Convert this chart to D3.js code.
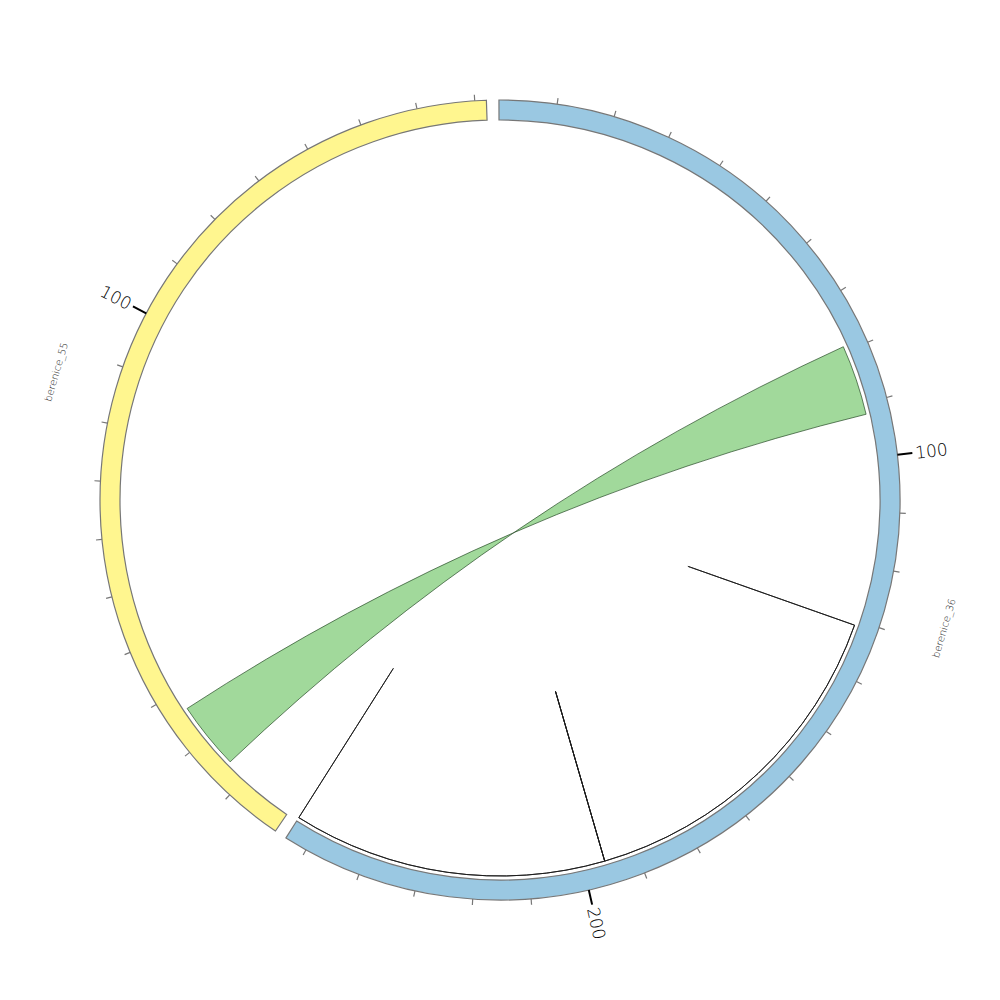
<!DOCTYPE html>
<html>
<head>
<meta charset="utf-8">
<script src="https://cdn.jsdelivr.net/npm/d3@7/dist/d3.min.js"></script>
<style>
  html, body { margin: 0; padding: 0; background: #ffffff; }
  svg { display: block; }
</style>
</head>
<body>
<svg id="chart" width="1000" height="1000"></svg>
<script>
// ---- data ----
const sectorNames = ["berenice_36", "berenice_55"];
const sectorSizes = [254, 172];
const sectorColors = ["#9ac8e2", "#fff68f"];
const tickStep = 10;
const majorTicks = [100, 200];
// links: [sector1, start1, end1] -> [sector2, start2, end2]
const linkSource = [["berenice_36", 79, 92], ["berenice_36", 131, 196], ["berenice_36", 196, 254]];
const linkTarget = [["berenice_55", 14, 26.5], ["berenice_36", 131, 196], ["berenice_36", 196, 254]];
const linkColors = ["#a1d99b", "none", "none"];

// ---- layout ----
const cx = 500, cy = 500;
const rOuter = 400, rInner = 380, rLink = 376;
const gapDeg = 1.8;
const startDeg = -0.15;
const total = d3.sum(sectorSizes);
const degPerUnit = (360 - gapDeg * sectorSizes.length) / total;
const rad = d => d * Math.PI / 180;

const svg = d3.select("#chart");
const g = svg.append("g").attr("transform", `translate(${cx},${cy})`);

// angle scales per sector
const scales = {};
let cur = startDeg;
sectorNames.forEach((n, i) => {
  const a0 = cur, a1 = cur + sectorSizes[i] * degPerUnit;
  scales[n] = d3.scaleLinear().domain([0, sectorSizes[i]]).range([rad(a0), rad(a1)]);
  cur = a1 + gapDeg;
});

// ---- links ----
const P = a => [rLink * Math.sin(a), -rLink * Math.cos(a)];
const ctl = (a, b) => {
  const p = P(a), q = P(b);
  return [0.06 * (p[0] + q[0]) / 2, 0.06 * (p[1] + q[1]) / 2];
};
function linkPath(src, tgt) {
  const a0 = scales[src[0]](src[1]), a1 = scales[src[0]](src[2]);
  const b0 = scales[tgt[0]](tgt[1]), b1 = scales[tgt[0]](tgt[2]);
  const p = d3.path();
  p.moveTo(...P(a0));
  p.arc(0, 0, rLink, a0 - Math.PI / 2, a1 - Math.PI / 2, a1 < a0);
  let k = ctl(a1, b1), e = P(b1);
  p.quadraticCurveTo(k[0], k[1], e[0], e[1]);
  p.arc(0, 0, rLink, b1 - Math.PI / 2, b0 - Math.PI / 2, b0 < b1);
  k = ctl(b0, a0); e = P(a0);
  p.quadraticCurveTo(k[0], k[1], e[0], e[1]);
  p.closePath();
  return p.toString();
}
g.append("g").selectAll("path")
  .data(linkSource.map((s, i) => ({ s, t: linkTarget[i], c: linkColors[i] })))
  .join("path")
  .attr("d", d => linkPath(d.s, d.t))
  .attr("fill", d => d.c)
  .attr("stroke", d => d.c === "none" ? "#1a1a1a" : "#264a26")
  .attr("stroke-width", d => d.c === "none" ? 0.9 : 0.7)
  .attr("stroke-linejoin", "miter");

// ---- sectors ----
const arc = d3.arc().innerRadius(rInner).outerRadius(rOuter);
g.append("g").selectAll("path")
  .data(sectorNames)
  .join("path")
  .attr("d", n => arc({ startAngle: scales[n].range()[0], endAngle: scales[n].range()[1] }))
  .attr("fill", (n, i) => sectorColors[i])
  .attr("stroke", "#777")
  .attr("stroke-width", 1.2);

// ---- ticks ----
sectorNames.forEach((n, i) => {
  const sc = scales[n];
  const ticks = d3.range(tickStep, sectorSizes[i] + 0.001, tickStep);
  const tg = g.append("g");
  ticks.forEach(v => {
    const a = sc(v);
    const major = majorTicks.includes(v);
    const r2 = major ? rOuter + 15 : rOuter + 6;
    tg.append("line")
      .attr("x1", rOuter * Math.sin(a)).attr("y1", -rOuter * Math.cos(a))
      .attr("x2", r2 * Math.sin(a)).attr("y2", -r2 * Math.cos(a))
      .attr("stroke", major ? "#000" : "#777")
      .attr("stroke-width", major ? 2 : 1.2);
    if (major) {
      const deg = a * 180 / Math.PI;
      const rl = rOuter + 18;
      const right = ((deg % 360) + 360) % 360 < 180;
      tg.append("text")
        .attr("transform", `translate(${rl * Math.sin(a)},${-rl * Math.cos(a)}) rotate(${right ? deg - 90 : deg + 90})`)
        .attr("text-anchor", right ? "start" : "end")
        .attr("dominant-baseline", "central")
        .attr("font-family", "DejaVu Sans, sans-serif")
        .attr("font-weight", 200)
        .attr("font-size", 17)
        .attr("fill", "#000")
        .text(String(v));
    }
  });
});

// ---- sector labels ----
g.append("g").selectAll("text")
  .data(sectorNames)
  .join("text")
  .attr("transform", n => {
    const [a0, a1] = scales[n].range();
    const a = (a0 + a1) / 2, deg = a * 180 / Math.PI, rl = 462;
    const rot = (((deg % 180) + 180) % 180) - 180;
    return `translate(${rl * Math.sin(a)},${-rl * Math.cos(a)}) rotate(${rot})`;
  })
  .attr("text-anchor", "middle")
  .attr("dominant-baseline", "central")
  .attr("font-family", "DejaVu Sans, sans-serif")
  .attr("font-weight", 200)
  .attr("font-size", 10)
  .attr("fill", "#222")
  .text(n => n);
</script>
</body>
</html>
